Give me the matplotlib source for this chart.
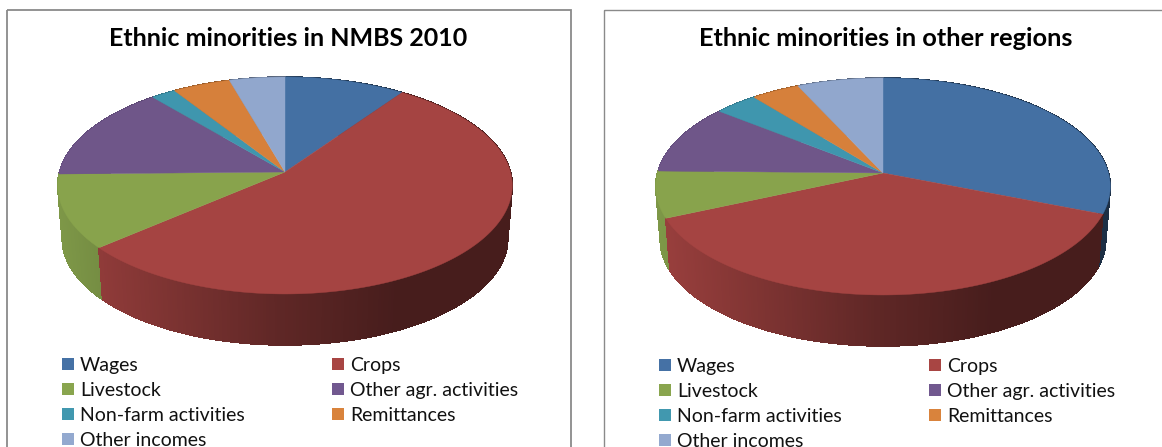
import numpy as np
import matplotlib
matplotlib.use("Agg")
import matplotlib.pyplot as plt
from matplotlib.collections import PolyCollection
from matplotlib.patches import Patch, Rectangle

plt.rcParams["font.family"] = ["Lato", "DejaVu Sans"]

categories = ["Wages", "Crops", "Livestock", "Other agr. activities",
              "Non-farm activities", "Remittances", "Other incomes"]
nmbs_values = [9.7, 54.0, 11.0, 14.2, 2.0, 4.65, 4.45]
other_values = [31.0, 37.4, 6.9, 10.4, 3.5, 3.9, 6.9]
titles = ["Ethnic minorities in NMBS 2010", "Ethnic minorities in other regions"]

colors = ["#4571A5", "#A84543", "#89A54E", "#71588F", "#4198AF", "#D9833C", "#93A9CF"]
top_colors = ["#4470A3", "#A54442", "#88A34C", "#6F5689", "#3F96AE", "#D6803B", "#91A7CD"]

# perspective of the tilted disc
K = 0.1244
A = 225.5
B = 106.8
DROP = 53.4
SHRINK = 0.98


def project(theta):
    u = np.sin(theta)
    v = np.cos(theta)
    w = 1 + K * v
    return A * u / w, -B * v / w


def shade(col, f):
    rgb = np.array(matplotlib.colors.to_rgb(col))
    return rgb * np.interp(f, [0, 0.1, 0.5, 0.75, 1], [0.92, 0.85, 0.56, 0.42, 0.42])


def draw_pie(ax, values, cx, cy):
    edges = np.cumsum([0] + list(values)) / np.sum(values) * 2 * np.pi
    polys = []
    cols = []
    depth = []
    # side wall first, cut into thin strips for the shading
    for i in range(len(values)):
        n = max(int((edges[i + 1] - edges[i]) * 90), 2)
        t = np.linspace(edges[i], edges[i + 1], n + 1)
        dx, dy = project(t)
        for j in range(n):
            polys.append([
                (cx + dx[j], cy + dy[j]),
                (cx + dx[j + 1], cy + dy[j + 1]),
                (cx + SHRINK * dx[j + 1], cy + DROP + SHRINK * dy[j + 1]),
                (cx + SHRINK * dx[j], cy + DROP + SHRINK * dy[j]),
            ])
            f = (dx[j] + 227) / 454
            cols.append(shade(colors[i], f))
            depth.append(np.cos(t[j]))
    order = np.argsort(depth)[::-1]
    ax.add_collection(PolyCollection([polys[o] for o in order],
                                     facecolors=[cols[o] for o in order],
                                     edgecolors=[cols[o] for o in order],
                                     linewidths=0.5, antialiaseds=False))
    # top face
    for i in range(len(values)):
        t = np.linspace(edges[i], edges[i + 1], 200)
        dx, dy = project(t)
        xs = np.concatenate([[cx], cx + dx])
        ys = np.concatenate([[cy], cy + dy])
        ax.fill(xs, ys, color=top_colors[i], lw=0.3)


fig = plt.figure(figsize=(11.62, 4.47), dpi=100)
ax = fig.add_axes([0, 0, 1, 1])
ax.set_xlim(0, 1162)
ax.set_ylim(447, 0)
ax.axis("off")

ax.add_patch(Rectangle((6.5, 9.5), 564.5, 460, fill=False, ec="#8a8a8a", lw=1.3))
ax.add_patch(Rectangle((603.5, 9.5), 600, 460, fill=False, ec="#8a8a8a", lw=1.0))

draw_pie(ax, nmbs_values, 285, 172)
draw_pie(ax, other_values, 883, 173)

ax.text(288, 38, titles[0], ha="center", va="center", fontsize=18.0, fontweight="bold", color="black")
ax.text(886, 38, titles[1], ha="center", va="center", fontsize=18.3, fontweight="bold", color="black")

# legend fills column by column, so list the left column first
legend_order = [0, 2, 4, 6, 1, 3, 5]
handles = [Patch(facecolor=colors[i], edgecolor="none", label=categories[i]) for i in legend_order]
for lx, ly in [(62, 357), (659, 358)]:
    fig.legend(handles=handles, ncol=2, loc="upper left", bbox_to_anchor=(lx, ly),
               bbox_transform=ax.transData, frameon=False, fontsize=14,
               borderpad=0, borderaxespad=0, handlelength=0.62, handleheight=0.62,
               handletextpad=0.31, labelspacing=0.41, columnspacing=4.5,
               labelcolor="#111111")

fig.savefig("out.png", dpi=100)
